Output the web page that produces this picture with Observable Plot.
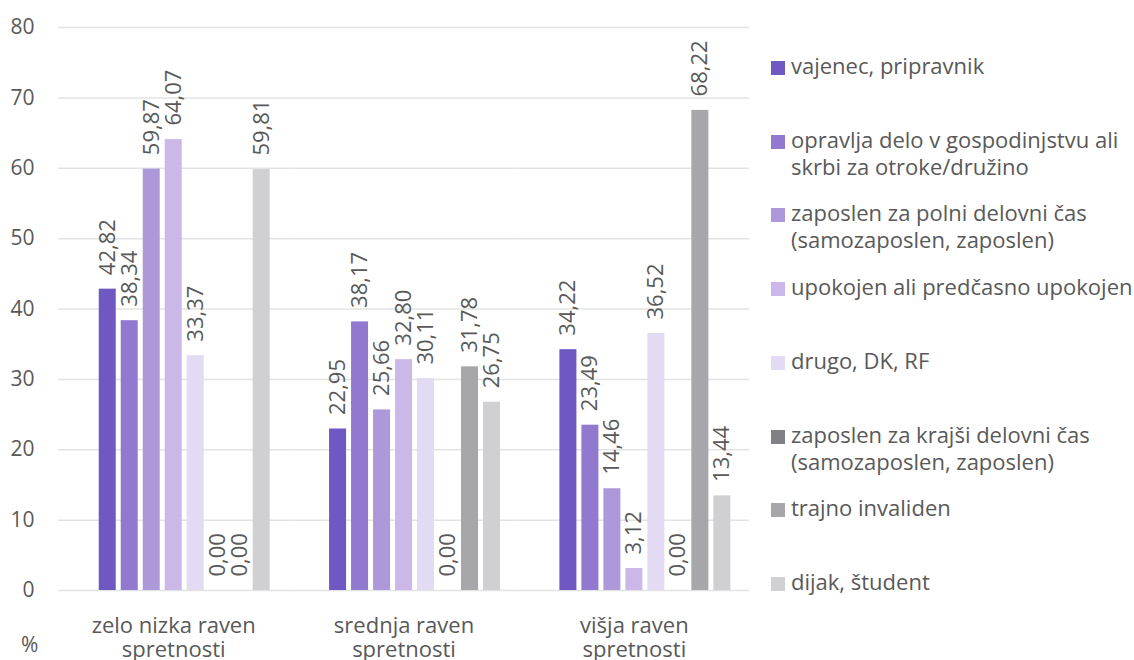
<!DOCTYPE html>
<html><head><meta charset="utf-8">
<script src="https://cdn.jsdelivr.net/npm/d3@7"></script>
<script src="https://cdn.jsdelivr.net/npm/@observablehq/plot@0.6"></script>
<style>
body{margin:0;background:#fff;font-family:"Open Sans",sans-serif;color:#595959;}
#wrap{position:relative;width:1134px;height:660px;overflow:hidden;}
#chart{position:absolute;left:0;top:0;}
.item{position:absolute;left:771px;display:flex;align-items:flex-start;font-size:22px;line-height:27px;}
.sw{width:14px;height:14px;margin-top:9px;margin-right:6px;flex:none;}
.lt{width:348px;}
#pct{position:absolute;left:21px;top:631px;font-size:21px;line-height:27px;}
</style></head><body>
<div id="wrap"><div id="chart"></div><div id="legend"></div><div id="pct">%</div></div>
<script>
const groups = ["zelo nizka raven spretnosti", "srednja raven spretnosti", "višja raven spretnosti"];
const series = [
  "vajenec, pripravnik",
  "opravlja delo v gospodinjstvu ali skrbi za otroke/družino",
  "zaposlen za polni delovni čas (samozaposlen, zaposlen)",
  "upokojen ali predčasno upokojen",
  "drugo, DK, RF",
  "zaposlen za krajši delovni čas (samozaposlen, zaposlen)",
  "trajno invaliden",
  "dijak, študent"
];
const colors = ["#7058c2", "#9179cf", "#ad99da", "#cbb8e9", "#e3daf3", "#808085", "#a6a6ab", "#d0d0d3"];
const valuesZeloNizka = [42.82, 38.34, 59.87, 64.07, 33.37, 0.00, 0.00, 59.81];
const valuesSrednja   = [22.95, 38.17, 25.66, 32.80, 30.11, 0.00, 31.78, 26.75];
const valuesVisja     = [34.22, 23.49, 14.46, 3.12, 36.52, 0.00, 68.22, 13.44];
const yTicks = [0, 10, 20, 30, 40, 50, 60, 70, 80];

const allValues = [valuesZeloNizka, valuesSrednja, valuesVisja];
const rows = groups.flatMap((g, i) => series.map((s, j) => ({group: g, series: s, value: allValues[i][j]})));

const chart = Plot.plot({
  width: 760, height: 660,
  marginLeft: 58, marginRight: 11, marginTop: 27, marginBottom: 70,
  style: {fontFamily: "Open Sans", fontSize: "21px", color: "#595959", background: "transparent"},
  fx: {domain: groups, padding: 0, label: null, round: false},
  x: {domain: series, paddingInner: 0.227, paddingOuter: 1.35, align: 0.686, axis: null, round: false},
  y: {domain: [0, 80], label: null},
  color: {domain: series, range: colors},
  marks: [
    Plot.ruleY(yTicks, {stroke: "#e3e3e3", strokeWidth: 1.5}),
    Plot.axisY({ticks: yTicks, tickSize: 0, tickPadding: 24, label: null, fill: "#595959", fontSize: 21}),
    Plot.axisFx({anchor: "bottom", tickSize: 0, tickPadding: 25, label: null, lineHeight: 1.09, fill: "#595959", fontSize: 22,
      tickFormat: d => d.replace(" spretnosti", "\nspretnosti")}),
    Plot.barY(rows, {fx: "group", x: "series", y: "value", fill: "series"}),
    Plot.text(rows, {fx: "group", x: "series", y: "value",
      text: d => d.value.toFixed(2).replace(".", ","),
      rotate: -90, textAnchor: "start", dy: -14, fill: "#595959", fontSize: 22})
  ]
});
document.getElementById("chart").appendChild(chart);

const legend = document.getElementById("legend");
series.forEach((s, i) => {
  const it = document.createElement("div");
  it.className = "item";
  it.style.top = (52 + 73.7 * i) + "px";
  const sw = document.createElement("div");
  sw.className = "sw";
  sw.style.background = colors[i];
  const t = document.createElement("div");
  t.className = "lt";
  t.textContent = s;
  it.appendChild(sw); it.appendChild(t);
  legend.appendChild(it);
});
</script>
</body></html>
